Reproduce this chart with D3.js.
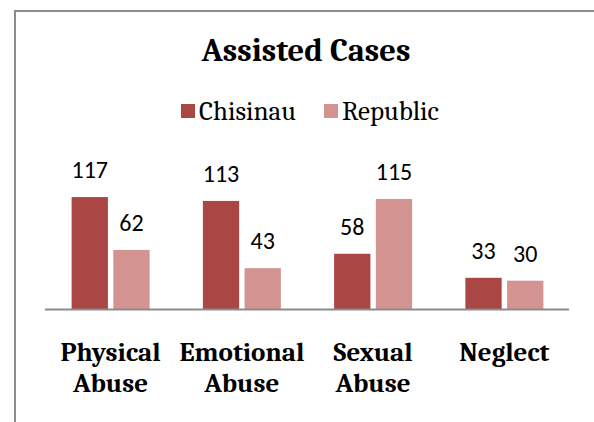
<!DOCTYPE html>
<html>
<head>
<meta charset="utf-8">
<script src="https://cdn.jsdelivr.net/npm/d3@7"></script>
<style>
  body { margin: 0; background: #fff; }
</style>
</head>
<body>
<div id="chart"></div>
<script>
// data
var categories = [["Physical", "Abuse"], ["Emotional", "Abuse"], ["Sexual", "Abuse"], ["Neglect"]];
var seriesNames = ["Chisinau", "Republic"];
var chisinau = [117, 113, 58, 33];
var republic = [62, 43, 115, 30];
var colors = ["#AA4643", "#D39391"];

var svgWidth = 594, svgHeight = 422;
var serif = "Cambria, 'Liberation Serif', serif";
var sans = "Calibri, 'Open Sans', sans-serif";

var svg = d3.select("#chart").append("svg")
  .attr("width", svgWidth)
  .attr("height", svgHeight);

// frame (top + left edges of the chart box)
svg.append("path")
  .attr("d", "M15,422 V11 H594")
  .attr("fill", "none")
  .attr("stroke", "#8c8c8c")
  .attr("stroke-width", 2);

// title
svg.append("text")
  .attr("x", 306).attr("y", 61)
  .attr("text-anchor", "middle")
  .style("font-family", serif)
  .style("font-weight", "bold")
  .style("font-size", "32.5px")
  .text("Assisted Cases");

// legend
var legendX = [181, 324];
seriesNames.forEach(function(name, i) {
  svg.append("rect")
    .attr("x", legendX[i]).attr("y", 104)
    .attr("width", 14).attr("height", 14)
    .attr("fill", colors[i]);
  svg.append("text")
    .attr("x", legendX[i] + 18).attr("y", 120)
    .style("font-family", serif)
    .style("font-size", "27px")
    .text(name);
});

// scales
var x0 = d3.scaleBand()
  .domain(d3.range(categories.length))
  .range([45, 570]);

var x1 = d3.scaleBand()
  .domain([0, 1])
  .range([x0.bandwidth() / 2 - 39, x0.bandwidth() / 2 + 39])
  .paddingInner(0.13);

var y = d3.scaleLinear()
  .domain([0, 140])
  .range([309.5, 175]);

var groups = svg.selectAll("g.group")
  .data(categories.map(function(c, i) { return [chisinau[i], republic[i]]; }))
  .enter().append("g")
  .attr("class", "group")
  .attr("transform", function(d, i) { return "translate(" + x0(i) + ",0)"; });

groups.selectAll("rect")
  .data(function(d) { return d; })
  .enter().append("rect")
  .attr("x", function(d, j) { return x1(j); })
  .attr("y", function(d) { return y(d); })
  .attr("width", x1.bandwidth())
  .attr("height", function(d) { return y(0) - y(d); })
  .attr("fill", function(d, j) { return colors[j]; });

groups.selectAll("text.val")
  .data(function(d) { return d; })
  .enter().append("text")
  .attr("class", "val")
  .attr("x", function(d, j) { return x1(j) + x1.bandwidth() / 2; })
  .attr("y", function(d) { return y(d) - 19; })
  .attr("text-anchor", "middle")
  .style("font-family", sans)
  .style("font-size", "24px")
  .attr("fill", "#000")
  .text(function(d) { return d; });

// x axis line
svg.append("line")
  .attr("x1", 45).attr("x2", 569)
  .attr("y1", y(0)).attr("y2", y(0))
  .attr("stroke", "#8c8c8c")
  .attr("stroke-width", 2);

// category labels
categories.forEach(function(lines, i) {
  var t = svg.append("text")
    .attr("text-anchor", "middle")
    .style("font-family", serif)
    .style("font-weight", "bold")
    .style("font-size", "27px");
  lines.forEach(function(line, k) {
    t.append("tspan")
      .attr("x", x0(i) + x0.bandwidth() / 2)
      .attr("y", 361 + k * 31)
      .text(line);
  });
});
</script>
</body>
</html>
